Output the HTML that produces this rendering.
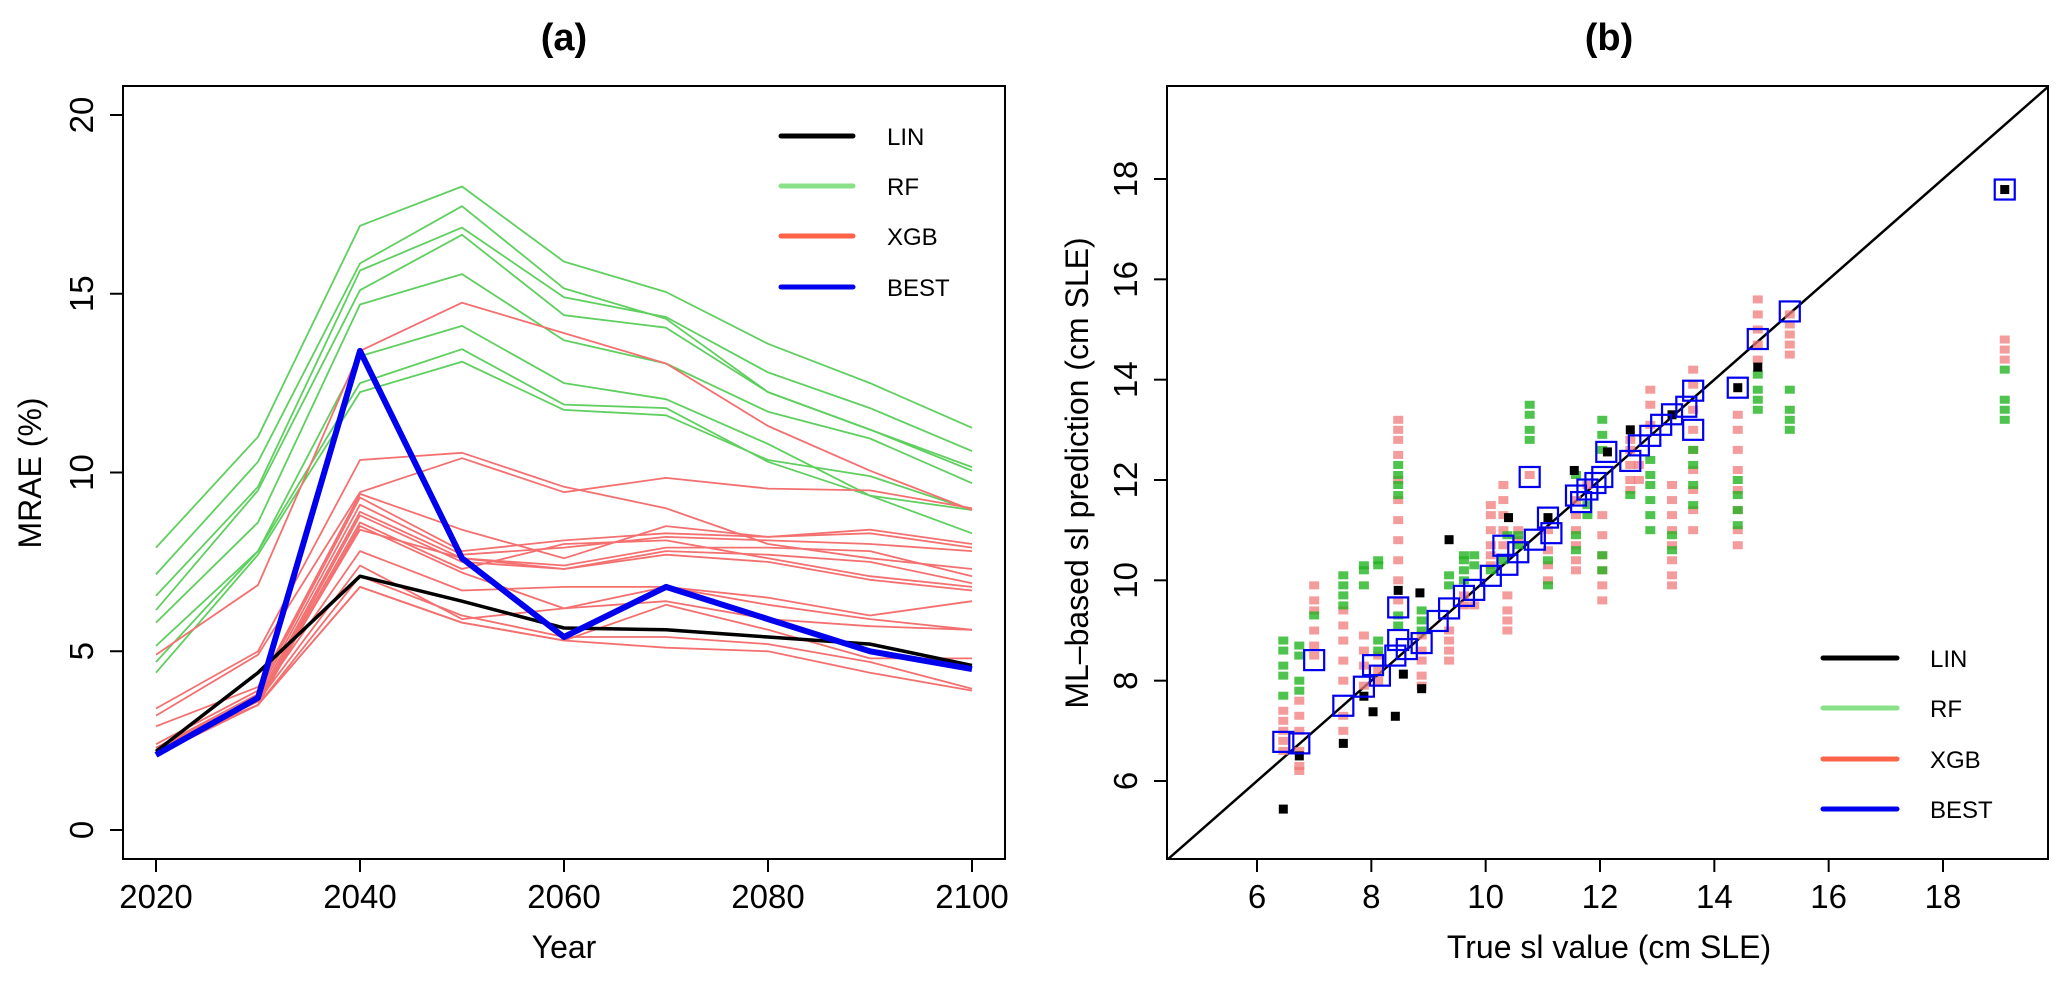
<!DOCTYPE html>
<html><head><meta charset="utf-8">
<style>
html,body{margin:0;padding:0;background:#fff;}
svg{display:block;font-family:"Liberation Sans",Arial,sans-serif;}
</style></head>
<body>
<svg id="fig" width="2067" height="983" viewBox="0 0 2067 983" xmlns="http://www.w3.org/2000/svg">
  <defs>
    <clipPath id="clipA"><rect x="123" y="86" width="882" height="773"/></clipPath>
    <clipPath id="clipB"><rect x="1167" y="86" width="881" height="773"/></clipPath>
  </defs>
  <text x="564" y="50" font-size="38" font-weight="bold" text-anchor="middle">(a)</text>
  <text x="1609" y="50" font-size="38" font-weight="bold" text-anchor="middle">(b)</text>
  <g id="panelA"></g>
  <g id="panelB"></g>
  <text x="564" y="958" font-size="32" text-anchor="middle">Year</text>
  <text x="1609" y="958" font-size="32" text-anchor="middle">True sl value (cm SLE)</text>
  <text transform="translate(41,473) rotate(-90)" font-size="32" text-anchor="middle">MRAE (%)</text>
  <text transform="translate(1088,473) rotate(-90)" font-size="32" text-anchor="middle">ML–based sl prediction (cm SLE)</text>
</svg>
<script>
// ---------- Panel (a) data ----------
const years = [2020,2030,2040,2050,2060,2070,2080,2090,2100];
const xTicksA = [2020,2040,2060,2080,2100];
const yTicksA = [0,5,10,15,20];
const linA = [2.2,4.4,7.1,6.4,5.65,5.6,5.4,5.2,4.6];
const bestA = [2.1,3.7,13.4,7.6,5.4,6.8,5.9,5.0,4.5];
const rfA = [
 [7.9,11.0,16.9,18.0,15.9,15.05,13.6,12.5,11.25],
 [7.15,10.3,15.85,17.45,15.15,14.3,12.25,11.2,10.15],
 [6.55,9.6,15.65,16.85,14.9,14.35,12.8,11.8,10.6],
 [6.15,9.5,15.1,16.65,14.4,14.05,12.25,11.2,10.05],
 [5.8,8.6,14.7,15.55,13.7,13.05,11.7,10.95,9.7],
 [5.15,7.8,13.25,14.1,12.5,12.05,10.8,9.35,8.3],
 [4.7,7.8,12.5,13.45,11.9,11.8,10.3,9.35,8.95],
 [4.4,7.7,12.25,13.1,11.75,11.6,10.35,9.9,8.95]
];
const xgbA = [
 [4.9,6.85,13.4,14.75,13.9,13.05,11.3,10.05,8.95],
 [3.4,5.0,10.35,10.55,9.6,9.0,8.0,7.6,7.3],
 [3.2,4.9,9.45,10.4,9.45,9.85,9.55,9.5,9.0],
 [2.9,4.0,9.4,8.4,7.6,8.5,8.2,8.3,7.9],
 [2.4,3.9,9.3,7.8,8.1,8.3,8.2,8.4,8.0],
 [2.3,3.8,9.1,7.7,7.9,8.2,8.1,8.0,7.8],
 [2.2,3.7,8.9,7.6,7.4,7.9,7.9,7.8,7.1],
 [2.2,3.6,8.8,7.5,7.3,7.8,7.7,7.5,6.9],
 [2.3,3.6,8.6,7.3,8.0,8.1,7.6,7.1,6.8],
 [2.2,3.5,8.5,7.2,6.2,6.8,6.5,6.0,6.4],
 [2.2,3.6,8.4,7.6,7.3,7.7,7.5,7.0,6.7],
 [2.3,3.7,7.8,6.7,6.8,6.8,6.3,5.9,5.6],
 [2.2,3.6,7.4,5.9,6.2,6.4,5.9,5.7,5.6],
 [2.3,3.5,6.8,5.8,5.3,6.3,5.6,4.8,4.8],
 [2.2,3.5,7.1,6.0,5.4,5.4,5.2,4.7,3.95],
 [2.1,3.5,6.8,5.8,5.3,5.1,5.0,4.4,3.9]
];
// ---------- Panel (b) data ----------
const xTicksB = [6,8,10,12,14,16,18];
const yTicksB = [6,8,10,12,14,16,18];
const stackX = [6.46,6.74,7.0,7.51,7.87,8.12,8.47,8.88,9.36,9.62,9.8,10.09,10.31,10.38,10.57,10.77,11.09,11.58,11.78,12.04,12.53,12.68,12.88,13.26,13.63,14.41,14.76,15.32,19.08];
const rfB = [
 [8.8,8.6,8.3,8.1,7.7],[8.7,8.5,8.0,7.8],[9.3],[10.1,9.9,9.7,9.5],[10.3,10.2,9.9],[10.4,10.3,8.8,8.6],
 [12.3,12.1,11.9,11.7,9.3,9.1],[9.4,9.2,9.0],[10.1,9.9],[10.5,10.4,10.2,10.0],[10.5,10.3],[10.2],[10.4],[10.9],
 [10.9,10.7],[13.5,13.3,13.0,12.8],[9.9,10.4],[10.6,10.9,12.1],[11.3,11.5],[13.2,12.9,12.6,10.5,10.2],[11.7],[],
 [12.4,12.1,11.9,11.6,11.3,11.0],[10.9,10.6],[12.6,12.3,11.9,11.5],[12.0,11.7,11.4,11.1],[14.1,13.8,13.6,13.4],
 [13.8,13.4,13.2,13.0],[14.2,13.6,13.4,13.2]
];
const xgbB = [
 [7.4,7.2,7.0,6.8,6.6],[7.6,7.3,7.0,6.6,6.3,6.2],[9.9,9.6,9.4,9.0,8.7,8.5],[9.4,9.1,8.8,8.4,8.0,7.3,7.0],
 [8.9,8.6,8.3,7.9],[8.5,8.2,8.0],[13.2,13.0,12.8,12.5,12.0,11.6,11.2,10.8,10.4,10.0,9.6],[8.9,8.6,8.4,8.1,7.9],
 [9.0,8.8,8.6,8.4],[9.7,9.5],[9.5],[11.5,11.3,11.0,10.7,10.5,10.3],[11.9,11.6,11.3,11.0,10.7],[9.7,9.4,9.2,9.0],
 [11.0,10.8],[12.1],[11.0,10.6,10.3,10.0],[11.6,11.3,11.0,10.7,10.4,10.2],[11.9],[10.9,10.5,10.2,9.9,9.6,11.3],
 [12.8,12.6,12.3,12.0,11.8],[12.3,12.0],[13.8,13.5,13.1],[11.9,11.6,11.3,11.0,10.7,10.4,10.1,9.9],
 [14.2,13.9,13.4,13.0,12.6,12.2,11.8,11.4,11.0],[13.3,13.0,12.6,12.2,11.8,11.4,11.0,10.7],
 [15.6,15.3,15.0,14.7,14.4],[15.3,15.1,14.9,14.7,14.5],[14.8,14.6,14.4]
];
const linBx = [6.46,6.74,7.51,8.03,8.42,8.88,8.85,9.36,8.47,11.09,12.53,13.26,14.41,14.76,19.08,10.4,11.55,12.13,7.87,8.56];
const linBy = [5.44,6.5,6.75,7.38,7.29,7.84,9.75,10.81,9.8,11.25,13.0,13.3,13.84,14.25,17.79,11.25,12.19,12.56,7.69,8.13];
const bestBx = [6.46,6.74,7.0,7.51,7.87,8.03,8.15,8.47,8.47,8.42,8.62,8.88,9.16,9.36,9.62,9.8,10.09,10.31,10.38,10.57,10.77,10.86,11.09,11.15,11.58,11.67,11.78,11.92,12.04,12.11,12.53,12.68,12.88,13.07,13.26,13.51,13.63,13.63,14.41,14.76,15.32,19.08];
const bestBy = [6.78,6.75,8.41,7.5,7.88,8.31,8.1,9.46,8.81,8.5,8.63,8.75,9.19,9.44,9.69,9.81,10.09,10.69,10.31,10.56,12.06,10.81,11.25,10.94,11.69,11.56,11.81,11.94,12.06,12.56,12.38,12.69,12.88,13.1,13.31,13.46,13.78,13.0,13.84,14.81,15.36,17.79];

const NS = "http://www.w3.org/2000/svg";
function mk(tag, attrs, parent){
  const e = document.createElementNS(NS, tag);
  for (const k in attrs) e.setAttribute(k, attrs[k]);
  parent.appendChild(e);
  return e;
}
const xA = v => 156 + (v - 2020) * (972 - 156) / 80;
const yA = v => 830 - v * (830 - 115) / 20;
const xB = v => 1257 + (v - 6) * (1943 - 1257) / 12;
const yB = v => 781 - (v - 6) * (781 - 179) / 12;

// ---------- Panel A ----------
const gA = document.getElementById('panelA');
const linesA = mk('g', {'clip-path':'url(#clipA)'}, gA);
function polyA(vals, color, w, name){
  const pts = vals.map((v,i)=> xA(years[i]).toFixed(1)+','+yA(v).toFixed(1)).join(' ');
  const p = mk('polyline', {points:pts, fill:'none', stroke:color, 'stroke-width':w, 'stroke-linejoin':'round'}, linesA);
  
  
}
rfA.forEach((s,i)=>polyA(s,'#5fcf5f',1.8,'rf-line-'+(i+1)));
xgbA.forEach((s,i)=>polyA(s,'#f47070',1.8,'xgb-line-'+(i+1)));
polyA(linA,'#000',3.5,'lin-line');
polyA(bestA,'#0000ee',6,'best-line');

const boxA = mk('rect',{x:123,y:86,width:882,height:773,fill:'none',stroke:'#000','stroke-width':2},gA);


xTicksA.forEach(t=>{
  const x = xA(t);
  const l = mk('line',{x1:x,y1:859,x2:x,y2:872,stroke:'#000','stroke-width':2},gA);
  
  
  const tx = mk('text',{x:x,y:908,'font-size':33,'text-anchor':'middle'},gA);
  tx.textContent = t;
  
  
});
yTicksA.forEach(t=>{
  const y = yA(t);
  const l = mk('line',{x1:110,y1:y,x2:123,y2:y,stroke:'#000','stroke-width':2},gA);
  
  
  const tx = mk('text',{transform:'translate(93,'+y+') rotate(-90)','font-size':33,'text-anchor':'middle'},gA);
  tx.textContent = t;
  
  
});
const legNames = ['LIN','RF','XGB','BEST'];
const legColors = ['#000','#88e088','#ff6347','#0000ee'];
function legend(g, x1, x2, tx, ys, pfx){
  legNames.forEach((n,i)=>{
    const l = mk('line',{x1:x1,y1:ys[i],x2:x2,y2:ys[i],stroke:legColors[i],'stroke-width':5,'stroke-linecap':'round'},g);
    
    
    const t = mk('text',{x:tx,y:ys[i]+9,'font-size':24},g);
    t.textContent = n;
    
    
  });
}
legend(gA, 781, 853, 887, [136,186,236,287], 'a');

// ---------- Panel B ----------
const gB = document.getElementById('panelB');
const marks = mk('g', {'clip-path':'url(#clipB)'}, gB);
const diag = mk('line',{x1:xB(4.4),y1:yB(4.4),x2:xB(19.9),y2:yB(19.9),stroke:'#000','stroke-width':2.5},marks);


stackX.forEach((xv,i)=>{
  xgbB[i].forEach(v=>{
    const r = mk('rect',{x:xB(xv)-5,y:yB(v)-4,width:10,height:8,fill:'#f07a7a','fill-opacity':0.75},marks);
    
    
  });
});
stackX.forEach((xv,i)=>{
  rfB[i].forEach(v=>{
    const r = mk('rect',{x:xB(xv)-5,y:yB(v)-4,width:10,height:8,fill:'#22b422','fill-opacity':0.8},marks);
    
    
  });
});
linBx.forEach((xv,i)=>{
  const r = mk('rect',{x:xB(xv)-4.5,y:yB(linBy[i])-4.5,width:9,height:9,fill:'#000'},marks);
  
  
});
bestBx.forEach((xv,i)=>{
  const r = mk('rect',{x:xB(xv)-10,y:yB(bestBy[i])-10,width:20,height:20,fill:'none',stroke:'#0000ee','stroke-width':2.2},marks);
  
  
});
const boxB = mk('rect',{x:1167,y:86,width:881,height:773,fill:'none',stroke:'#000','stroke-width':2},gB);


xTicksB.forEach(t=>{
  const x = xB(t);
  const l = mk('line',{x1:x,y1:859,x2:x,y2:872,stroke:'#000','stroke-width':2},gB);
  
  
  const tx = mk('text',{x:x,y:908,'font-size':33,'text-anchor':'middle'},gB);
  tx.textContent = t;
  
  
});
yTicksB.forEach(t=>{
  const y = yB(t);
  const l = mk('line',{x1:1154,y1:y,x2:1167,y2:y,stroke:'#000','stroke-width':2},gB);
  
  
  const tx = mk('text',{transform:'translate(1137,'+y+') rotate(-90)','font-size':33,'text-anchor':'middle'},gB);
  tx.textContent = t;
  
  
});
legend(gB, 1823, 1897, 1930, [658,708,759,809], 'b');
</script>
</body></html>
